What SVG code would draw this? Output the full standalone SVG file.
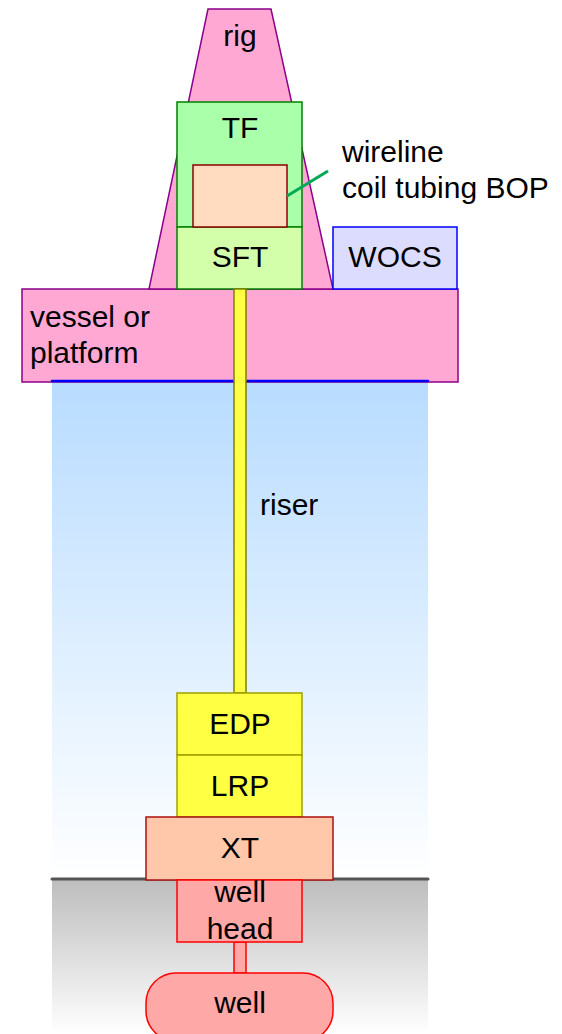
<svg xmlns="http://www.w3.org/2000/svg" width="562" height="1034" viewBox="0 0 562 1034">
<defs>
<linearGradient id="water" x1="0" y1="0" x2="0" y2="1">
<stop offset="0" stop-color="#b8dcff"/>
<stop offset="1" stop-color="#ffffff"/>
</linearGradient>
<linearGradient id="ground" x1="0" y1="0" x2="0" y2="1">
<stop offset="0" stop-color="#bdbdbd"/>
<stop offset="1" stop-color="#ffffff"/>
</linearGradient>
<style>
text{font-family:"Liberation Sans",Arial,sans-serif;font-size:30px;fill:#000}
.c{text-anchor:middle}
.pink{fill:#ffa8d4;stroke:#8b008b;stroke-width:1.5}
.yel{fill:#ffff44;stroke:#a0a000;stroke-width:1.5}
.red{fill:#ffa8a8;stroke:#ff0000;stroke-width:1.5}
</style>
</defs>
<g id="water-area">
<rect x="52" y="381" width="376" height="497" fill="url(#water)"/>
</g>
<g id="seabed">
<rect x="52" y="879" width="376" height="155" fill="url(#ground)"/>
<line x1="52" y1="879" x2="428" y2="879" stroke="#555" stroke-width="3" stroke-linecap="round"/>
</g>
<g id="vessel">
<rect class="pink" x="22" y="289" width="436" height="93"/>
<text x="30" y="327">vessel or</text>
<text x="30" y="363">platform</text>
</g>
<g id="waterline">
<line x1="52" y1="381" x2="428" y2="381" stroke="#0000ff" stroke-width="2.5" stroke-linecap="round"/>
</g>
<g id="rig">
<polygon class="pink" points="208,9 271,9 333,289 149,289"/>
<text class="c" x="240" y="46">rig</text>
</g>
<g id="TF">
<rect x="177" y="102" width="125" height="125" fill="#aaffaa" stroke="#008000" stroke-width="1.5"/>
<text class="c" x="240" y="138">TF</text>
</g>
<g id="SFT">
<rect x="177" y="227" width="125" height="62" fill="#d4ffaa" stroke="#008000" stroke-width="1.5"/>
<text class="c" x="240" y="267">SFT</text>
</g>
<g id="BOP">
<rect x="193" y="165" width="94" height="62" fill="#ffdcc0" stroke="#8b0000" stroke-width="1.5"/>
<text x="342" y="162">wireline</text>
<text x="342" y="198">coil tubing BOP</text>
</g>
<g id="WOCS">
<rect x="333" y="227" width="124" height="62" fill="#dcdcff" stroke="#0000ff" stroke-width="1.5"/>
<text class="c" x="395" y="267">WOCS</text>
</g>
<g id="connectors">
<rect x="234" y="289" width="12" height="404" fill="#ffff44" stroke="#808000" stroke-width="1.5"/>
<line x1="287" y1="196" x2="328" y2="171" stroke="#00aa55" stroke-width="3"/>
<rect x="234" y="942" width="12" height="31" fill="#ffa8a8" stroke="#ff0000" stroke-width="1.5"/>
</g>
<g id="riser-label">
<text x="260" y="515">riser</text>
</g>
<g id="EDP">
<rect class="yel" x="177" y="693" width="125" height="62"/>
<text class="c" x="240" y="734">EDP</text>
</g>
<g id="LRP">
<rect class="yel" x="177" y="755" width="125" height="62"/>
<text class="c" x="240" y="796">LRP</text>
</g>
<g id="XT">
<rect x="146" y="817" width="187" height="63" fill="#ffc8aa" stroke="#aa1111" stroke-width="1.5"/>
<text class="c" x="240" y="858">XT</text>
</g>
<g id="wellhead">
<rect class="red" x="177" y="880" width="125" height="62"/>
<text class="c" x="240" y="902">well</text>
<text class="c" x="240" y="939">head</text>
</g>
<g id="well">
<rect class="red" x="146" y="973" width="187" height="68" rx="30" ry="30"/>
<text class="c" x="240" y="1013">well</text>
</g>
</svg>
